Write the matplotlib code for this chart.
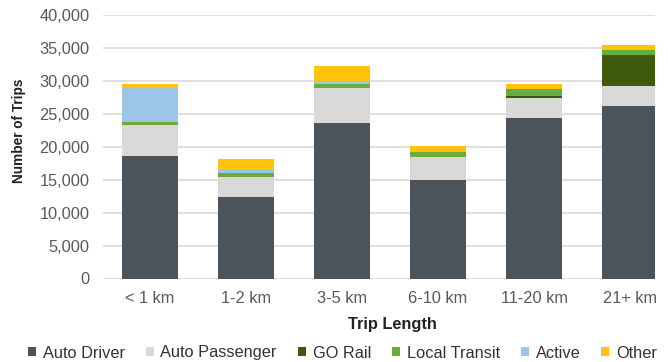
import matplotlib
matplotlib.use("Agg")
import matplotlib.pyplot as plt
import numpy as np

plt.rcParams['font.family'] = ['Liberation Sans', 'DejaVu Sans']

categories = ["< 1 km", "1-2 km", "3-5 km", "6-10 km", "11-20 km", "21+ km"]
auto_driver = [18600, 12400, 23600, 14900, 24400, 26200]
auto_passenger = [4650, 2950, 5350, 3550, 3050, 2950]
go_rail = [0, 0, 0, 0, 200, 4800]
local_transit = [450, 700, 600, 750, 1100, 800]
active = [5200, 550, 400, 50, 0, 100]
other = [650, 1500, 2250, 900, 700, 550]

series = [
    ("Auto Driver", auto_driver, "#4b545b"),
    ("Auto Passenger", auto_passenger, "#d9d9d9"),
    ("GO Rail", go_rail, "#3d5a0e"),
    ("Local Transit", local_transit, "#6aab3b"),
    ("Active", active, "#9cc5e8"),
    ("Other", other, "#ffc408"),
]
y_ticks = [0, 5000, 10000, 15000, 20000, 25000, 30000, 35000, 40000]

FS = 11.8
W, H = 668, 362
fig = plt.figure(figsize=(W / 100, H / 100), dpi=100)
left, right = 103, 655
bottom, top = 278.5, 15
ax = fig.add_axes([left / W, 1 - bottom / H, (right - left) / W, (bottom - top) / H])

x = np.arange(len(categories))
base = np.zeros(len(categories))
handles = []
for name, vals, color in series:
    vals = np.array(vals, dtype=float)
    b = ax.bar(x, vals, width=0.583, bottom=base, color=color, label=name,
               zorder=3, linewidth=0)
    handles.append(b)
    base += vals

ax.set_ylim(0, 40000)
ax.set_xlim(-0.49, 5.26)
ax.set_yticks(y_ticks)
ax.set_yticklabels([f"{v:,}" for v in y_ticks])
ax.set_xticks(x)
ax.set_xticklabels(categories)
ax.tick_params(axis='both', length=0, labelsize=FS, colors="#595959")
ax.tick_params(axis='y', pad=9.5)
ax.tick_params(axis='x', pad=9)
ax.grid(axis='y', color="#d9d9d9", linewidth=1.2, zorder=0)
for s in ax.spines.values():
    s.set_visible(False)

fig.text(19 / W, 1 - 131 / H, "Number of Trips", rotation=90, ha='center', va='center',
         fontsize=9.8, fontweight='bold', color="#222222")
fig.text(392 / W, 1 - 324 / H, "Trip Length", ha='center', va='center',
         fontsize=FS, fontweight='bold', color="#222222")

fig.legend(handles=handles, loc='center left', bbox_to_anchor=(28 / W, 1 - 353 / H), ncol=6,
           frameon=False, fontsize=FS, handlelength=0.5, handleheight=0.5,
           handletextpad=0.4, columnspacing=1.28, borderpad=0, borderaxespad=0,
           labelcolor="#333333")

fig.savefig("out.png", dpi=100, facecolor="white")
